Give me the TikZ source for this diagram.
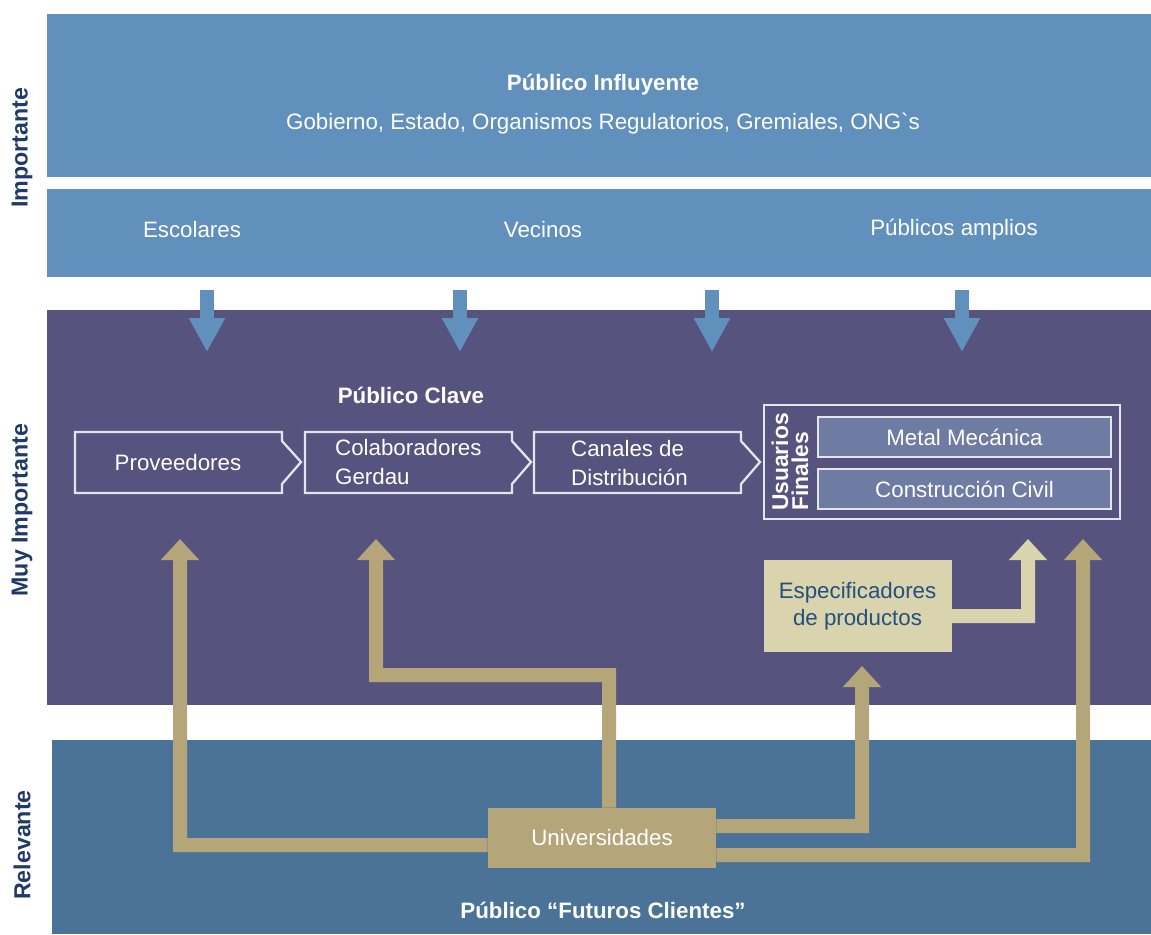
\documentclass[tikz,border=0pt]{standalone}
\usepackage{fontspec}
\setmainfont{Liberation Sans}
\usetikzlibrary{arrows.meta}
\definecolor{bandblue}{HTML}{6290BC}
\definecolor{clavepurple}{HTML}{56537F}
\definecolor{relblue}{HTML}{4B7397}
\definecolor{gold}{HTML}{B4A679}
\definecolor{lightgold}{HTML}{D9D4AE}
\definecolor{navy}{HTML}{1F3A68}
\definecolor{espnavy}{HTML}{24507E}
\definecolor{innerblue}{HTML}{6E7CA3}
\definecolor{outline}{HTML}{E4E4EC}

\begin{document}
\begin{tikzpicture}[x=0.02cm,y=-0.02cm,
    txt/.style={text=white,font=\fontsize{12.7}{16}\selectfont},
    boldtxt/.style={text=white,font=\fontsize{12.7}{16}\selectfont\bfseries},
    side/.style={text=navy,font=\fontsize{13.2}{16}\selectfont\bfseries,rotate=90},
    downarrow/.style={draw=bandblue,line width=0.28cm,-{Triangle[width=0.68cm,length=0.68cm]}},
    goldarrow/.style={draw=gold,line width=0.28cm,-{Triangle[width=0.74cm,length=0.42cm]}},
    lightarrow/.style={draw=lightgold,line width=0.28cm,-{Triangle[width=0.74cm,length=0.42cm]}},
    chevron/.style={draw=outline,line width=1.3pt},
    innerbox/.style={txt,draw=outline,fill=innerblue,line width=1.1pt,
      minimum width=5.86cm,minimum height=0.8cm,inner sep=0pt}]
   \useasboundingbox (0,0) rectangle (1151,934);
   % bands
   \fill[bandblue] (47,14) rectangle (1151,177);
   \fill[bandblue] (47,189) rectangle (1151,277);
   \fill[clavepurple] (47,310) rectangle (1151,705);
   \fill[relblue] (52,740) rectangle (1151,934);
   % side labels
   \node[side] (imp) at (22,148) {Importante};
   \node[side] (muy) at (22,510) {Muy Importante};
   \node[side] (rel) at (22,845) {Relevante};
   % influyente
   \node[boldtxt] (influ) at (603,85) {Público Influyente};
   \node[txt] (gob) at (603,124) {Gobierno, Estado, Organismos Regulatorios, Gremiales, ONG\textasciigrave s};
   \node[txt] (esco) at (192,230) {Escolares};
   \node[txt] (veci) at (543,230) {Vecinos};
   \node[txt] (ampl) at (954,230) {Públicos amplios};
   \foreach \x in {207,460,712,962}
     \draw[downarrow] (\x,290) -- (\x,352);
   % clave
   \node[boldtxt] (clave) at (411,395) {Público Clave};
   \foreach \x in {75,305,534}
     \draw[chevron] (\x,432) -- (\x+207,432) -- (\x+207,441) -- (\x+226,462)
       -- (\x+207,484) -- (\x+207,493) -- (\x,493) -- cycle;
   \node[txt] (prov) at (178,463) {Proveedores};
   \node[txt,align=left,anchor=west] (colab) at (329,462) {Colaboradores\\Gerdau};
   \node[txt,align=left,anchor=west] (canal) at (565,463) {Canales de\\Distribución};
   % usuarios finales
   \draw[chevron] (764,405) rectangle (1120,519);
   \node[txt,rotate=90,align=left,font=\fontsize{13}{11.4}\selectfont\bfseries] (usu) at (790,462) {Usuarios\\Finales};
   \node[innerbox] (metal) at (964.5,437) {Metal Mecánica};
   \node[innerbox] (const) at (964.5,489) {Construcción Civil};
   % especificadores
   \node[fill=lightgold,text=espnavy,align=center,font=\fontsize{12.7}{15.4}\selectfont,
     minimum width=3.76cm,minimum height=1.84cm] (espec) at (857.5,606) {Especificadores\\de productos};
   % futuros clientes
   \node[fill=gold,minimum width=4.56cm,minimum height=1.2cm,txt] (univ) at (602,838) {Universidades};
   \node[boldtxt] (futu) at (603,910) {Público “Futuros Clientes”};
   \draw[goldarrow] ([yshift=-0.14cm]univ.west) -- (180,845) -- (180,539);
   \draw[goldarrow] ([xshift=0.14cm]univ.north) -- (609,675) -- (376,675) -- (376,539);
   \draw[goldarrow] ([yshift=0.24cm]univ.east) -- (862,826) -- (862,666);
   \draw[goldarrow] ([yshift=-0.34cm]univ.east) -- (1083,855) -- (1083,539);
   \draw[lightarrow] ([yshift=-0.2cm]espec.east) -- (1028,616) -- (1028,539);
\end{tikzpicture}
\end{document}
